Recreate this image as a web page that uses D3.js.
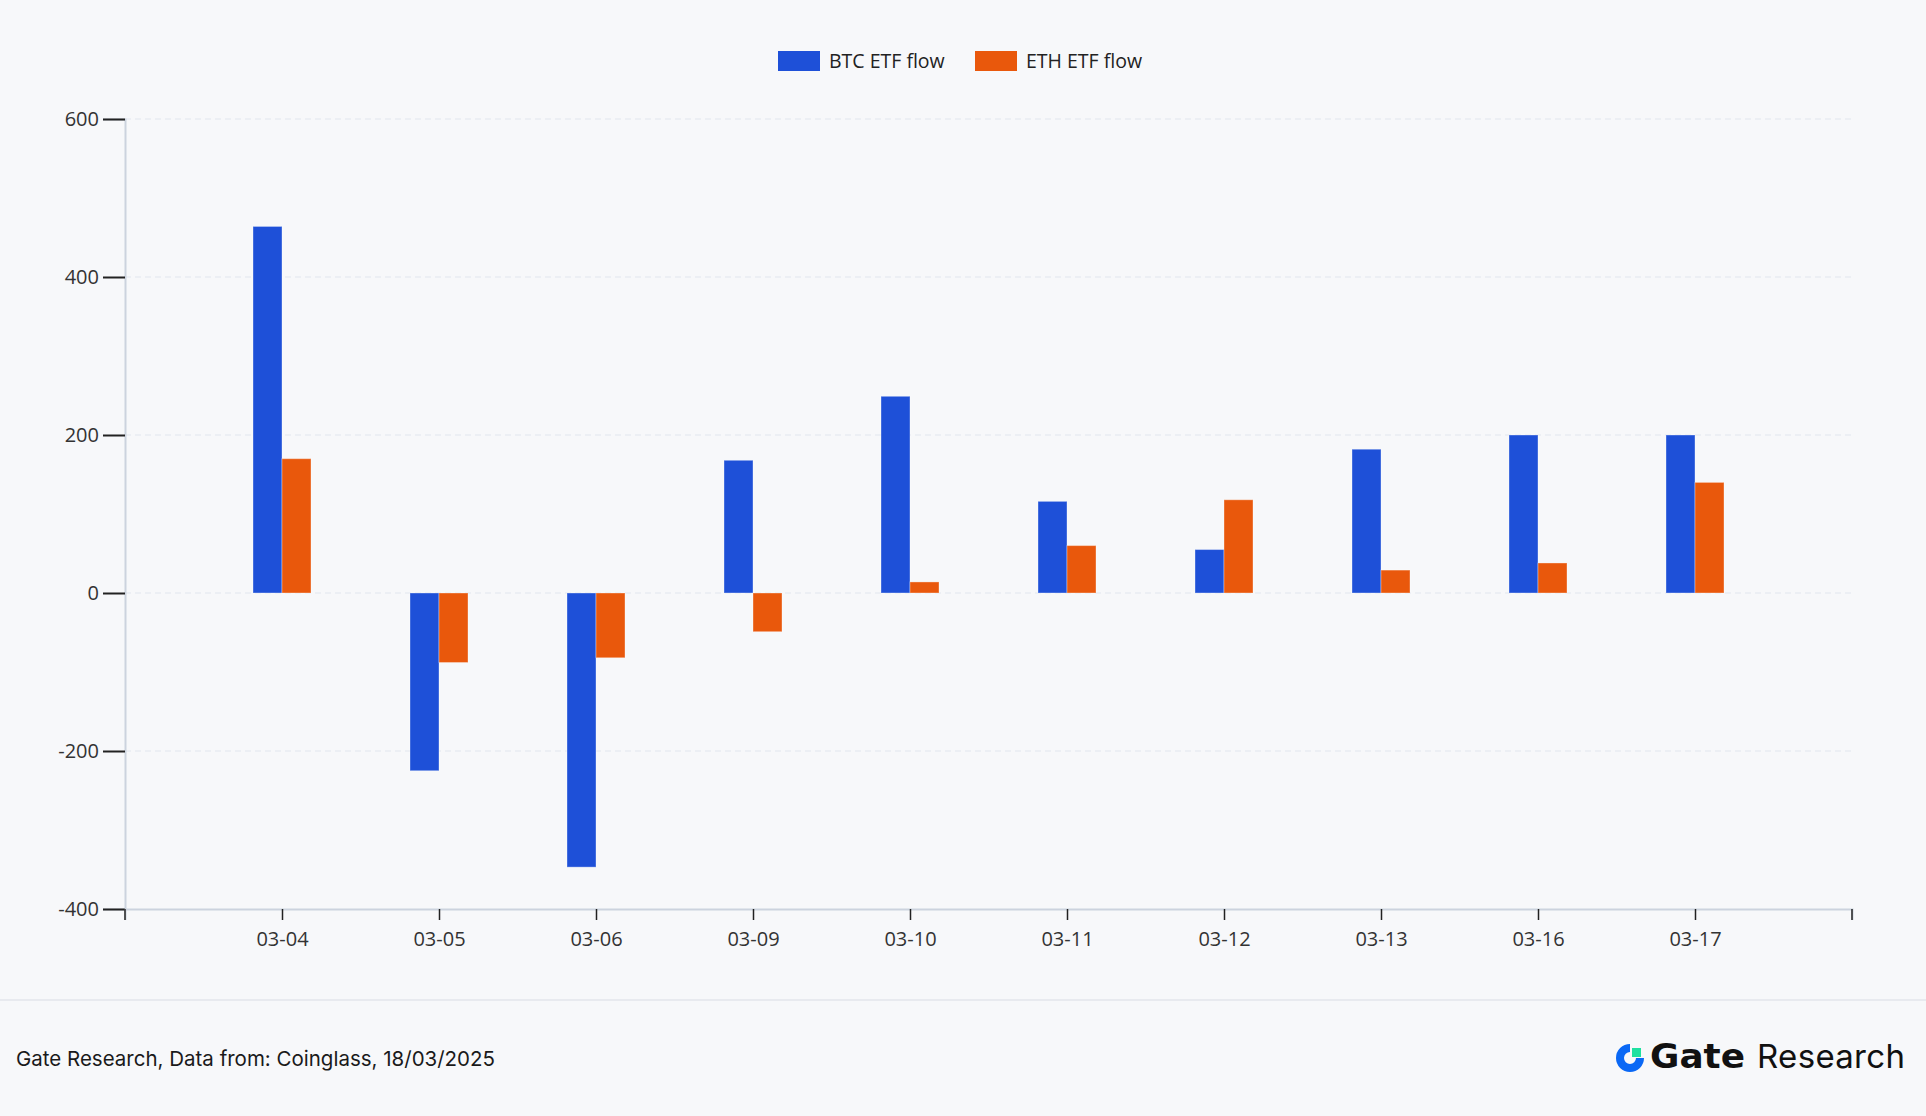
<!DOCTYPE html>
<html>
<head>
<meta charset="utf-8">
<script src="https://cdn.jsdelivr.net/npm/d3@7"></script>
<style>
  html, body { margin: 0; padding: 0; background: #f7f8fa; }
  svg { display: block; }
</style>
</head>
<body>
<svg id="chart" width="1926" height="1116"></svg>
<script>
const categories = ["03-04","03-05","03-06","03-09","03-10","03-11","03-12","03-13","03-16","03-17"];
const btcFlow = [464, -225, -347, 168, 249, 116, 55, 182, 200, 200];
const ethFlow = [170, -88, -82, -49, 14, 60, 118, 29, 38, 140];
const seriesNames = ["BTC ETF flow", "ETH ETF flow"];
const seriesColors = ["#1e50d8", "#e9580c"];
const yTicks = [-400, -200, 0, 200, 400, 600];
const footerText = "Gate Research, Data from: Coinglass, 18/03/2025";

(function () {
const W = 1926, H = 1116;
const svg = d3.select("#chart");
svg.append("rect").attr("width", W).attr("height", H).attr("fill", "#f7f8fa");

const mLeft = 125, mRight = 1852, mTop = 119, mBottom = 909;
const x = d3.scalePoint().domain(categories).range([mLeft, mRight]).padding(1);
const y = d3.scaleLinear().domain([-400, 600]).range([mBottom, mTop]);
const barW = 29;
const font = "'Open Sans', 'Liberation Sans', sans-serif";

// gridlines
svg.append("g").selectAll("line").data(yTicks.filter(d => d > -400)).join("line")
  .attr("x1", mLeft).attr("x2", mRight)
  .attr("y1", d => y(d)).attr("y2", d => y(d))
  .attr("stroke", "#e1e5ee").attr("stroke-width", 1.2).attr("stroke-dasharray", "6,4");

// bars
const data = categories.map((c, i) => ({c, v: [btcFlow[i], ethFlow[i]]}));
const groups = svg.append("g").selectAll("g").data(data).join("g");
[0, 1].forEach(s => {
  groups.append("rect")
    .attr("x", d => x(d.c) + (s === 0 ? -barW : 0))
    .attr("width", barW)
    .attr("y", d => y(Math.max(0, d.v[s])))
    .attr("height", d => Math.abs(y(d.v[s]) - y(0)))
    .attr("fill", seriesColors[s])
    .attr("stroke", "rgba(255,255,255,0.35)").attr("stroke-width", 1);
});

// y axis
const yAxis = svg.append("g").attr("transform", `translate(${mLeft},0)`)
  .call(d3.axisLeft(y).tickValues(yTicks).tickFormat(d => String(d)).tickSize(22).tickPadding(4));
yAxis.select(".domain").attr("stroke", "#ccd3de").attr("stroke-width", 2);
yAxis.selectAll(".tick line").attr("stroke", "#222").attr("stroke-width", 2);
yAxis.selectAll(".tick text").attr("font-family", font).attr("font-size", 20).attr("fill", "#333");

// x axis
const xAxis = svg.append("g").attr("transform", `translate(0,${mBottom})`)
  .call(d3.axisBottom(x).tickSize(11).tickSizeOuter(11).tickPadding(12));
xAxis.select(".domain").attr("stroke", "#ccd3de").attr("stroke-width", 2);
xAxis.selectAll(".tick line").attr("stroke", "#222").attr("stroke-width", 1.5);
xAxis.selectAll(".tick text").attr("font-family", font).attr("font-size", 20).attr("fill", "#333");
// end ticks
svg.append("g").selectAll("line").data(x.range()).join("line")
  .attr("x1", d => d).attr("x2", d => d).attr("y1", mBottom).attr("y2", mBottom + 11)
  .attr("stroke", "#222").attr("stroke-width", 1.5);

// legend
const legendX = [778, 975];
const leg = svg.append("g").selectAll("g").data(seriesNames).join("g")
  .attr("transform", (d, i) => `translate(${legendX[i]},51)`);
leg.append("rect").attr("width", 42).attr("height", 20).attr("fill", (d, i) => seriesColors[i]);
leg.append("text").attr("x", 51).attr("y", 17).text(d => d)
  .attr("font-family", font).attr("font-size", 19.5).attr("fill", "#222");

// footer separator
svg.append("line").attr("x1", 0).attr("x2", W).attr("y1", 1000).attr("y2", 1000)
  .attr("stroke", "#e3e6eb").attr("stroke-width", 1.5);
svg.append("text").attr("x", 16).attr("y", 1066).text(footerText)
  .attr("font-family", "Inter, sans-serif").attr("font-size", 20.5).attr("fill", "#1a1a1a");

// logo
const logo = svg.append("g").attr("transform", "translate(1630,1058)");
const arc = d3.arc().innerRadius(6).outerRadius(14).startAngle(Math.PI / 2).endAngle(2 * Math.PI);
logo.append("path").attr("d", arc()).attr("fill", "#0a68f5");
logo.append("rect").attr("x", 2).attr("y", -10).attr("width", 9).attr("height", 9).attr("fill", "#1fe0a0");
svg.append("text").attr("x", 1650).attr("y", 1068)
  .attr("font-family", "'DejaVu Sans', sans-serif").attr("font-size", 33).attr("fill", "#111")
  .attr("font-weight", 700).attr("textLength", 95).attr("lengthAdjust", "spacingAndGlyphs").text("Gate");
svg.append("text").attr("x", 1757).attr("y", 1068)
  .attr("font-family", "Inter, sans-serif").attr("font-size", 33).attr("fill", "#111")
  .attr("font-weight", 400).attr("textLength", 148).attr("lengthAdjust", "spacing").text("Research");
})();
</script>
</body>
</html>
